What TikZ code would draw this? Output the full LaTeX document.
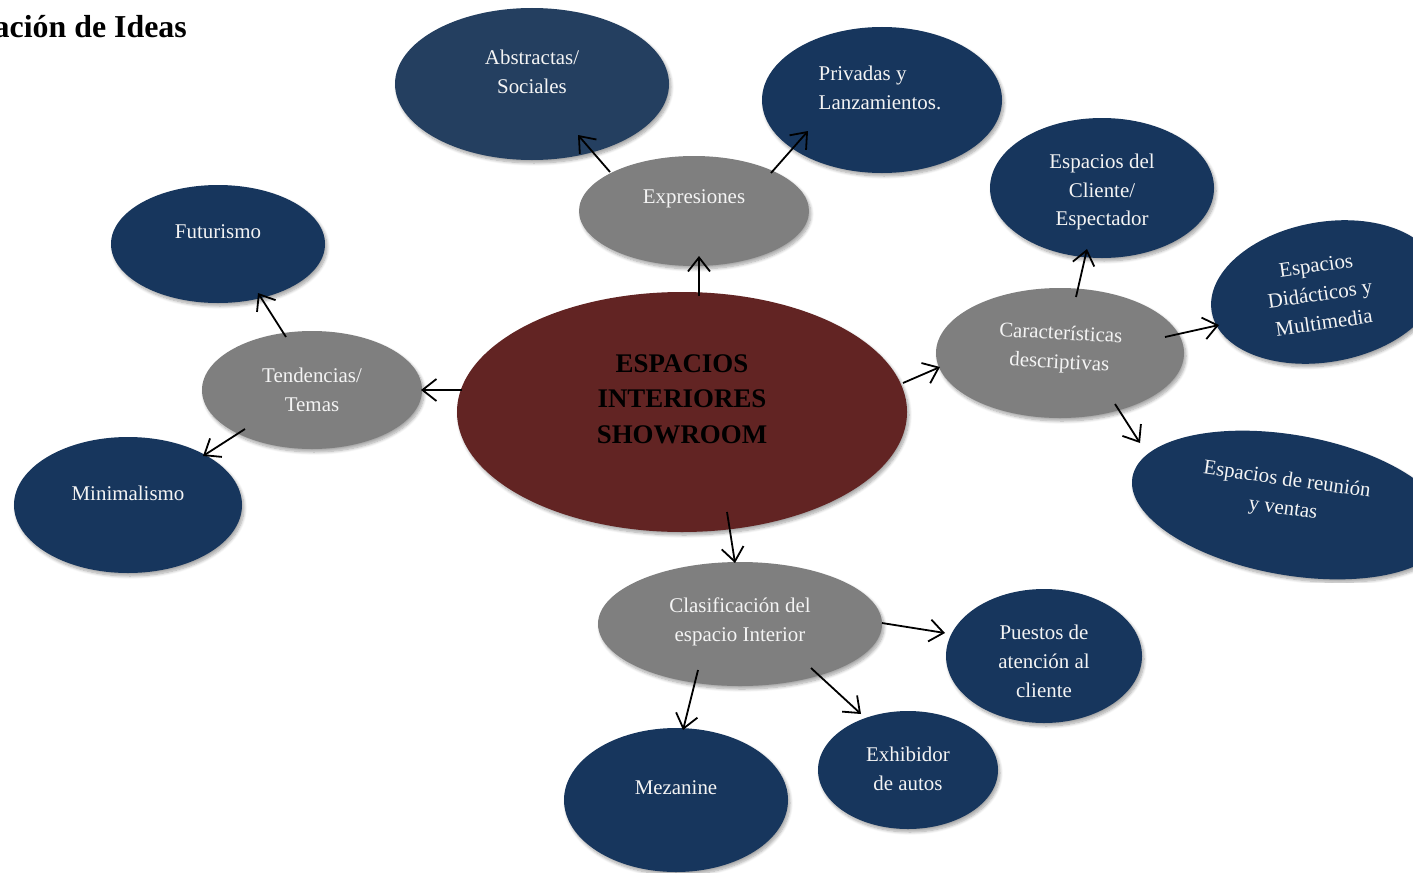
\documentclass[tikz,border=0pt]{standalone}
\usepackage{fontspec}
\setmainfont{Liberation Serif}
\usetikzlibrary{shapes.geometric,arrows.meta,shadows.blur}
\definecolor{navy}{HTML}{17365D}
\definecolor{navylt}{HTML}{243F60}
\definecolor{maroon}{HTML}{622423}
\definecolor{stone}{HTML}{7F7F7F}
\definecolor{paper}{HTML}{F4F4F4}
\begin{document}
\begin{tikzpicture}[x=1bp,y=-1bp,
  bubble/.style={ellipse, inner sep=0pt,
    blur shadow={shadow xshift=2bp, shadow yshift=-3bp, shadow opacity=35, shadow blur steps=8, shadow blur radius=3bp}},
  navyb/.style={bubble, fill=navy},
  greyb/.style={bubble, fill=stone},
  txt/.style={text=paper, align=center, inner sep=0pt, font=\fontsize{21}{29}\selectfont},
  arr/.style={-{Straight Barb[length=14bp,width=22bp]}, line width=1.8bp, black}]
\useasboundingbox (0,0) rectangle (1413,872);
\clip (0,0) rectangle (1413,872);

% heading
\node[anchor=base east, inner sep=0pt, font=\bfseries\fontsize{32}{36}\selectfont] (head) at (187,37) {ación de Ideas};

% outer bubbles
\node[navyb, fill=navylt, minimum width=274bp, minimum height=152bp] (abs) at (532,84) {};
\node[txt] (abs-t) at (532,72) {Abstractas/\\Sociales};
\node[navyb, minimum width=240bp, minimum height=146bp] (pri) at (882,100) {};
\node[txt, align=left] (pri-t) at (880,88) {Privadas y\\Lanzamientos.};
\node[navyb, minimum width=214bp, minimum height=118bp] (fut) at (218,244) {};
\node[txt] (fut-t) at (218,232) {Futurismo};
\node[navyb, minimum width=228bp, minimum height=136bp] (min) at (128,505) {};
\node[txt] (min-t) at (128,493) {Minimalismo};
\node[navyb, minimum width=224bp, minimum height=140bp] (cli) at (1102,188) {};
\node[txt] (cli-t) at (1102,192) {Espacios del\\Cliente/\\Espectador};
\node[navyb, rotate=10, minimum width=230bp, minimum height=140bp] (did) at (1325,292) {};
\node[txt, rotate=8] (did-t) at (1320,294) {Espacios\\Didácticos y\\Multimedia};
\node[navyb, rotate=-10, minimum width=320bp, minimum height=140bp] (reu) at (1290,505) {};
\node[txt, rotate=-8] (reu-t) at (1285,495) {Espacios de reunión\\y ventas};
\node[navyb, minimum width=196bp, minimum height=134bp] (pue) at (1044,656) {};
\node[txt] (pue-t) at (1044,661) {Puestos de\\atención al\\cliente};
\node[navyb, minimum width=180bp, minimum height=118bp] (exh) at (908,770) {};
\node[txt] (exh-t) at (908,769) {Exhibidor\\de autos};
\node[navyb, minimum width=224bp, minimum height=144bp] (mez) at (676,800) {};
\node[txt] (mez-t) at (676,788) {Mezanine};

% grey category bubbles
\node[greyb, minimum width=230bp, minimum height=110bp] (exp) at (694,211) {};
\node[txt] (exp-t) at (694,199) {Expresiones};
\node[greyb, minimum width=220bp, minimum height=118bp] (ten) at (312,390) {};
\node[txt] (ten-t) at (312,390) {Tendencias/\\Temas};
\node[greyb, minimum width=248bp, minimum height=130bp] (car) at (1060,353) {};
\node[txt, rotate=-3] (car-t) at (1060,349) {Características\\descriptivas};
\node[greyb, minimum width=284bp, minimum height=124bp] (cla) at (740,624) {};
\node[txt] (cla-t) at (740,622) {Clasificación del\\espacio Interior};

% central bubble
\node[bubble, fill=maroon, minimum width=450bp, minimum height=240bp] (c) at (682,412) {};
\node[align=center, inner sep=0pt, font=\bfseries\fontsize{27}{35.5}\selectfont] (c-t) at (682,399) {ESPACIOS\\INTERIORES\\SHOWROOM};

% connectors
\draw[arr] ([shift={(17,-116)}]c.center) -- ([shift={(5,45)}]exp.center);
\draw[arr] ([shift={(-84,-39)}]exp.center) -- ([shift={(46,51)}]abs.center);
\draw[arr] ([shift={(77,-38)}]exp.center) -- ([shift={(-74,31)}]pri.center);
\draw[arr] ([shift={(-220,-22)}]c.center) -- ([shift={(109,0)}]ten.center);
\draw[arr] ([shift={(-26,-53)}]ten.center) -- ([shift={(40,49)}]fut.center);
\draw[arr] ([shift={(-67,39)}]ten.center) -- ([shift={(75,-49)}]min.center);
\draw[arr] ([shift={(221,-29)}]c.center) -- ([shift={(-120,14)}]car.center);
\draw[arr] ([shift={(16,-56)}]car.center) -- ([shift={(-15,61)}]cli.center);
\draw[arr] ([shift={(105,-16)}]car.center) -- ([shift={(-106,33)}]did.center);
\draw[arr] ([shift={(55,51)}]car.center) -- ([shift={(-150,-62)}]reu.center);
\draw[arr] ([shift={(45,100)}]c.center) -- ([shift={(-5,-61)}]cla.center);
\draw[arr] ([shift={(142,-1)}]cla.center) -- ([shift={(-99,-23)}]pue.center);
\draw[arr] ([shift={(71,44)}]cla.center) -- ([shift={(-47,-56)}]exh.center);
\draw[arr] ([shift={(-42,46)}]cla.center) -- ([shift={(7,-70)}]mez.center);
\end{tikzpicture}
\end{document}
